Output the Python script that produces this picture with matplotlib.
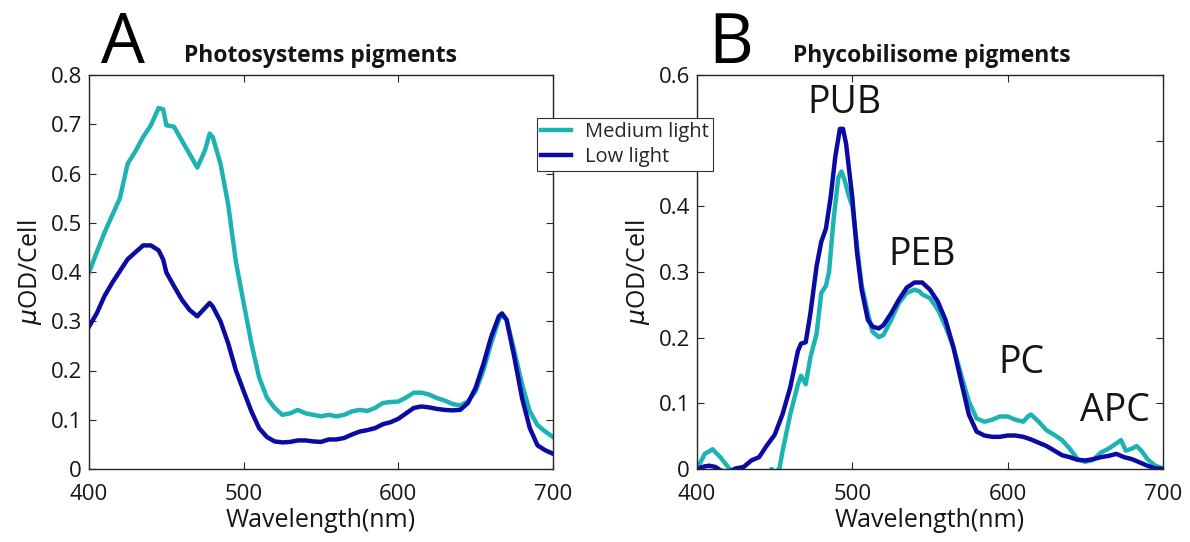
import matplotlib
matplotlib.use("Agg")
import matplotlib.pyplot as plt

plt.rcParams['font.family'] = ['Open Sans', 'DejaVu Sans']
plt.rcParams['mathtext.fontset'] = 'dejavusans'

# ---- Panel A data ----
wl_a = [400, 405, 410, 415, 420, 425, 430, 435, 440, 445, 448, 450, 455, 460, 465, 470, 475, 478, 480,
        485, 490, 495, 500, 505, 510, 515, 520, 525, 530, 535, 540, 545, 550, 555, 560, 565, 570, 575,
        580, 585, 590, 595, 600, 605, 610, 615, 620, 625, 630, 635, 640, 645, 650, 655, 660, 665, 667,
        670, 675, 680, 685, 690, 695, 700]
med_a = [0.399, 0.44, 0.48, 0.515, 0.55, 0.62, 0.645, 0.674, 0.698, 0.733, 0.73, 0.698, 0.695, 0.667,
         0.64, 0.612, 0.647, 0.681, 0.674, 0.62, 0.537, 0.42, 0.337, 0.255, 0.186, 0.145, 0.124, 0.11,
         0.113, 0.12, 0.113, 0.11, 0.107, 0.11, 0.107, 0.11, 0.117, 0.12, 0.118, 0.124, 0.134, 0.136,
         0.137, 0.145, 0.155, 0.155, 0.151, 0.144, 0.139, 0.132, 0.129, 0.137, 0.158, 0.2, 0.255, 0.303,
         0.313, 0.303, 0.24, 0.172, 0.117, 0.089, 0.076, 0.065]
low_a = [0.289, 0.316, 0.351, 0.378, 0.402, 0.426, 0.44, 0.454, 0.454, 0.444, 0.425, 0.399, 0.371,
         0.344, 0.323, 0.31, 0.327, 0.337, 0.33, 0.3, 0.255, 0.2, 0.158, 0.117, 0.083, 0.065, 0.056,
         0.054, 0.055, 0.058, 0.058, 0.056, 0.055, 0.06, 0.06, 0.063, 0.07, 0.076, 0.079, 0.083, 0.091,
         0.095, 0.102, 0.113, 0.124, 0.127, 0.125, 0.122, 0.12, 0.119, 0.12, 0.134, 0.165, 0.213, 0.268,
         0.31, 0.316, 0.303, 0.227, 0.144, 0.083, 0.048, 0.038, 0.031]

# ---- Panel B data ----
wl_b_med = [400, 405, 410, 415, 420, 425, 435, 445, 448, 450, 453, 455, 460, 465, 467, 470, 473, 477,
            480, 483, 485, 488, 491, 493, 495, 498, 500, 503, 506, 510, 513, 517, 520, 525, 530, 535,
            540, 543, 545, 550, 555, 560, 565, 570, 575, 580, 585, 590, 595, 600, 605, 610, 613, 615,
            620, 625, 630, 635, 640, 645, 650, 655, 660, 665, 670, 673, 676, 680, 683, 686, 690, 695, 700]
med_b = [0.0, 0.023, 0.03, 0.018, 0.003, -0.01, -0.02, -0.01, 0.0, -0.005, 0.0, 0.026, 0.083, 0.129,
         0.142, 0.129, 0.17, 0.206, 0.268, 0.279, 0.3, 0.382, 0.444, 0.453, 0.44, 0.414, 0.4, 0.34,
         0.28, 0.237, 0.209, 0.201, 0.204, 0.227, 0.253, 0.268, 0.273, 0.271, 0.266, 0.26, 0.243,
         0.217, 0.186, 0.144, 0.103, 0.077, 0.072, 0.075, 0.08, 0.08, 0.075, 0.072, 0.08, 0.083,
         0.072, 0.059, 0.052, 0.044, 0.031, 0.015, 0.011, 0.014, 0.025, 0.031, 0.039, 0.044, 0.028,
         0.031, 0.035, 0.028, 0.015, 0.005, 0.001]
wl_b_low = [400, 405, 408, 412, 415, 420, 425, 430, 435, 440, 445, 450, 455, 460, 465, 467, 470, 473,
            477, 480, 483, 486, 489, 492, 494, 496, 498, 500, 503, 506, 510, 513, 517, 520, 525, 530,
            535, 540, 545, 550, 555, 560, 565, 570, 575, 580, 585, 590, 595, 600, 605, 610, 615, 620,
            625, 630, 635, 640, 645, 650, 655, 660, 665, 670, 675, 680, 685, 690, 695, 700]
low_b = [0.0, 0.004, 0.005, 0.003, -0.002, -0.005, 0.001, 0.003, 0.013, 0.018, 0.036, 0.052, 0.083,
         0.124, 0.18, 0.191, 0.193, 0.237, 0.309, 0.346, 0.366, 0.413, 0.475, 0.518, 0.518, 0.495,
         0.454, 0.413, 0.33, 0.273, 0.227, 0.217, 0.214, 0.219, 0.237, 0.258, 0.276, 0.284, 0.284,
         0.273, 0.255, 0.227, 0.186, 0.134, 0.083, 0.057, 0.051, 0.049, 0.049, 0.051, 0.051, 0.049,
         0.045, 0.04, 0.035, 0.028, 0.021, 0.018, 0.014, 0.013, 0.015, 0.018, 0.02, 0.023, 0.018,
         0.015, 0.01, 0.005, 0.001, 0.0]

pigment_labels = ["PUB", "PEB", "PC", "APC"]
pigment_x = [495, 545, 609, 669]
pigment_y = [0.558, 0.326, 0.162, 0.089]

series_names = ["Medium light", "Low light"]
c_med = "#1DB3B3"
c_low = "#0B0BA3"

yticks_a = [0, 0.1, 0.2, 0.3, 0.4, 0.5, 0.6, 0.7, 0.8]
ylabels_a = ["0", "0.1", "0.2", "0.3", "0.4", "0.5", "0.6", "0.7", "0.8"]
yticks_b = [0, 0.1, 0.2, 0.3, 0.4, 0.5, 0.6]
ylabels_b = ["0", "0.1", "0.2", "0.3", "0.4", "", "0.6"]  # 0.5 is hidden behind the legend
xticks = [400, 500, 600, 700]

W, H = 1190, 542
fig = plt.figure(figsize=(W / 100, H / 100), dpi=100)
axA = fig.add_axes([89 / W, 1 - 469 / H, 464 / W, 394 / H])
axB = fig.add_axes([697 / W, 1 - 469 / H, 466 / W, 394 / H])

lw = 3.2
lA1, = axA.plot(wl_a, med_a, color=c_med, lw=lw, label=series_names[0])
lA2, = axA.plot(wl_a, low_a, color=c_low, lw=lw, label=series_names[1])
axB.plot(wl_b_med, med_b, color=c_med, lw=lw)
axB.plot(wl_b_low, low_b, color=c_low, lw=lw)

txt = '#151515'
for ax, ymax, yt, yl in [(axA, 0.8, yticks_a, ylabels_a),
                         (axB, 0.6, yticks_b, ylabels_b)]:
    ax.set_xlim(400, 700)
    ax.set_ylim(0, ymax)
    ax.set_xticks(xticks)
    ax.set_xticklabels([str(v) for v in xticks])
    ax.set_yticks(yt)
    ax.set_yticklabels(yl)
    ax.tick_params(direction='in', top=True, right=True, labelsize=16, length=5,
                   width=0.8, color='#262626', labelcolor=txt)
    ax.tick_params(axis='x', pad=11)
    ax.tick_params(axis='y', pad=5)
    for s in ax.spines.values():
        s.set_linewidth(1.0)
        s.set_color('#262626')
    ax.set_xlabel("Wavelength(nm)", fontsize=18, color=txt)
    ax.xaxis.set_label_coords(0.5, -0.098)
    ax.set_ylabel(r"$\mu$OD/Cell", fontsize=18, color=txt)
    ax.yaxis.set_label_coords(-0.097, 0.5)

fig.text(321 / W, 1 - 62 / H, "Photosystems pigments", fontsize=16.5, fontweight='bold',
         ha='center', va='baseline', color=txt)
fig.text(932 / W, 1 - 62 / H, "Phycobilisome pigments", fontsize=16.5, fontweight='bold',
         ha='center', va='baseline', color=txt)

fig.text(123 / W, 1 - 63 / H, "A", fontsize=50, ha='center', va='baseline', color='black')
fig.text(731 / W, 1 - 63 / H, "B", fontsize=50, ha='center', va='baseline', color='black')

for lab, x, y in zip(pigment_labels, pigment_x, pigment_y):
    axB.text(x, y, lab, fontsize=27, ha='center', va='center', color=txt)

leg = fig.legend(handles=[lA1, lA2], loc='upper left', bbox_to_anchor=(537 / W, 1 - 118 / H),
                 fontsize=14.5, frameon=True, fancybox=False, handlelength=1.5,
                 borderpad=0.2, labelspacing=0.25, handletextpad=0.7, borderaxespad=0)
for t in leg.get_texts():
    t.set_color('#262626')
leg.get_frame().set_edgecolor('#333333')
leg.get_frame().set_linewidth(0.8)
leg.get_frame().set_alpha(1)
leg.set_zorder(10)

fig.savefig("out.png", dpi=100)
